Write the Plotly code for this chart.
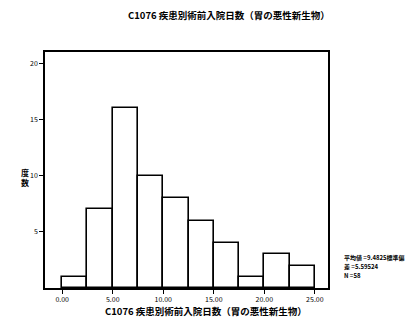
import plotly.graph_objects as go

# 度数分布（階級幅 2.5日）
bin_starts = [0.0, 2.5, 5.0, 7.5, 10.0, 12.5, 15.0, 17.5, 20.0, 22.5]
counts = [1, 7, 16, 10, 8, 6, 4, 1, 3, 2]
bin_width = 2.5

x_tickvals = [0, 5, 10, 15, 20, 25]
x_ticktext = ["0.00", "5.00", "10.00", "15.00", "20.00", "25.00"]
y_tickvals = [5, 10, 15, 20]

title_text = "C1076 疾患別術前入院日数（胃の悪性新生物）"
stats_lines = ["平均値 =9.4825標準偏", "差 =5.59524", "N =58"]

FONT = "Noto Sans CJK JP"

fig = go.Figure()
fig.add_trace(
    go.Bar(
        x=bin_starts,
        y=counts,
        width=bin_width,
        offset=0,
        marker=dict(color="white", line=dict(color="black", width=1.6)),
        showlegend=False,
    )
)

axis_style = dict(
    ticks="outside",
    ticklen=4,
    tickcolor="black",
    tickfont=dict(size=7, family=FONT, color="black"),
    showline=True,
    linecolor="black",
    linewidth=1.5,
    mirror=True,
    showgrid=False,
    zeroline=False,
)

fig.update_layout(
    width=415,
    height=320,
    margin=dict(l=37, r=95, t=44, b=40),
    paper_bgcolor="white",
    plot_bgcolor="white",
    font=dict(family=FONT, color="black"),
    bargap=0,
    xaxis=dict(range=[-1.7, 26.3], tickvals=x_tickvals, ticktext=x_ticktext, **axis_style),
    yaxis=dict(range=[0, 21], tickvals=y_tickvals, **axis_style),
)

# タイトル
fig.add_annotation(
    text="<b>" + title_text + "</b>",
    xref="paper", yref="paper", x=0.65, y=1.0,
    yshift=37, showarrow=False, xanchor="center", yanchor="middle",
    font=dict(size=9.5, family=FONT, color="black"),
)
# x軸タイトル
fig.add_annotation(
    text="<b>" + title_text + "</b>",
    xref="paper", yref="paper", x=0.57, y=0,
    yshift=-23, showarrow=False, xanchor="center", yanchor="middle",
    font=dict(size=9.5, family=FONT, color="black"),
)
# y軸タイトル（縦書き）
fig.add_annotation(
    text="<b>度<br>数</b>",
    xref="paper", yref="paper", x=0, y=0.47,
    xshift=-20, showarrow=False, xanchor="center", yanchor="middle",
    font=dict(size=8, family=FONT, color="black"),
)
# 統計量（1行ずつ配置）
for i, line in enumerate(stats_lines):
    fig.add_annotation(
        text="<b>" + line + "</b>",
        xref="paper", yref="paper", x=1.0, y=0.09,
        xshift=14, yshift=9 - 9 * i, showarrow=False,
        xanchor="left", yanchor="middle", align="left",
        font=dict(size=6, family=FONT, color="black"),
    )

fig.write_html("out.html")
